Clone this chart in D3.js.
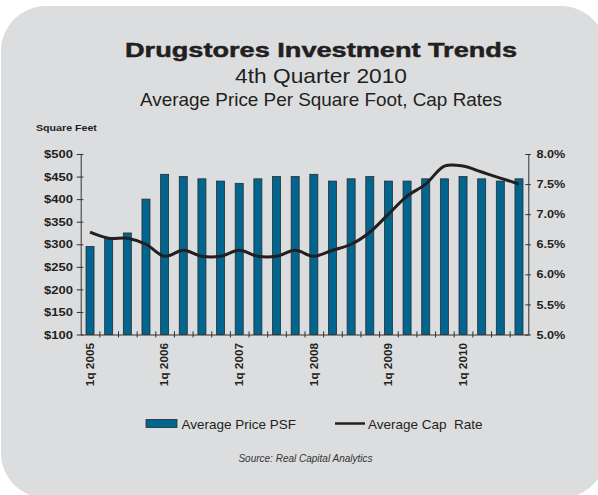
<!DOCTYPE html>
<html><head><meta charset="utf-8">
<script src="https://cdn.jsdelivr.net/npm/d3@7/dist/d3.min.js"></script>
<style>
body{margin:0;background:#fff}
svg{display:block;font-family:"Liberation Sans",Arial,Helvetica,sans-serif}
</style>
</head><body>
<svg id="c" width="598" height="495"></svg>
<script>
// ---- data ----
const quarters = ["1q 2005","2q 2005","3q 2005","4q 2005",
                  "1q 2006","2q 2006","3q 2006","4q 2006",
                  "1q 2007","2q 2007","3q 2007","4q 2007",
                  "1q 2008","2q 2008","3q 2008","4q 2008",
                  "1q 2009","2q 2009","3q 2009","4q 2009",
                  "1q 2010","2q 2010","3q 2010","4q 2010"];
const xTickLabels = ["1q 2005","1q 2006","1q 2007","1q 2008","1q 2009","1q 2010"];
const pricePSF = [295,315,325,400,455,450,445,440,435,445,450,450,
                  455,440,445,450,440,440,445,445,450,445,440,445];
const capRate  = [6.7,6.6,6.6,6.5,6.3,6.4,6.3,6.3,6.4,6.3,6.3,6.4,
                  6.3,6.4,6.5,6.7,7.0,7.3,7.5,7.8,7.8,7.7,7.6,7.5];
const leftTicks  = [100,150,200,250,300,350,400,450,500];
const rightTicks = [5.0,5.5,6.0,6.5,7.0,7.5,8.0];
const seriesNames = ["Average Price PSF","Average Cap  Rate"];

// ---- layout ----
const svg = d3.select("#c");
const L = 80.7, R = 528.3, T = 154, B = 334.5;
const ink = "#231f20";

svg.append("rect").attr("x",1).attr("y",6).attr("width",605).attr("height",492)
   .attr("rx",45).attr("ry",45).attr("fill","#dcdddf");

function stretch(sel, k){
  sel.each(function(){
    const w = this.getComputedTextLength();
    d3.select(this).attr("textLength", w*k).attr("lengthAdjust","spacingAndGlyphs");
  });
}

// titles
svg.append("text").attr("x",321).attr("y",56.5).attr("text-anchor","middle")
   .attr("font-size",21).attr("font-weight","bold").attr("fill",ink)
   .attr("stroke",ink).attr("stroke-width",0.5)
   .attr("textLength",392).attr("lengthAdjust","spacingAndGlyphs")
   .text("Drugstores Investment Trends");
svg.append("text").attr("x",321).attr("y",82.5).attr("text-anchor","middle")
   .attr("font-size",21).attr("fill",ink)
   .attr("textLength",172).attr("lengthAdjust","spacingAndGlyphs")
   .text("4th Quarter 2010");
svg.append("text").attr("x",321).attr("y",106).attr("text-anchor","middle")
   .attr("font-size",18.5).attr("fill",ink)
   .attr("textLength",362).attr("lengthAdjust","spacingAndGlyphs")
   .text("Average Price Per Square Foot, Cap Rates");
svg.append("text").attr("x",36).attr("y",131)
   .attr("font-size",9.5).attr("font-weight","bold").attr("fill",ink)
   .text("Square Feet").call(stretch,1.12);

// scales
const x = d3.scaleBand().domain(quarters).range([L,R]).paddingInner(0.57).paddingOuter(0.285);
const xi = d3.scaleLinear().domain([0,quarters.length]).range([L,R]);
const yL = d3.scaleLinear().domain([100,500]).range([B,T]);
const yR = d3.scaleLinear().domain([5,8]).range([B,T]);

// bars
svg.append("g").selectAll("rect").data(pricePSF).join("rect")
   .attr("x",(d,i)=>x(quarters[i]))
   .attr("y",d=>yL(d))
   .attr("width",x.bandwidth())
   .attr("height",d=>B-yL(d))
   .attr("fill","#00668f").attr("stroke","#2b2b2b").attr("stroke-width",0.8);

// line
const line = d3.line().x((d,i)=>x(quarters[i])+x.bandwidth()/2).y(d=>yR(d))
   .curve(d3.curveCatmullRom.alpha(0.5));
svg.append("path").datum(capRate).attr("d",line)
   .attr("fill","none").attr("stroke",ink).attr("stroke-width",3);

// axes
const axisColor = "#333";
const gl = svg.append("g").attr("transform",`translate(${L},0)`)
   .call(d3.axisLeft(yL).tickValues(leftTicks).tickFormat("").tickSizeOuter(0));
gl.selectAll(".tick line").attr("x1",2.7).attr("x2",-4);
const gr = svg.append("g").attr("transform",`translate(${R},0)`)
   .call(d3.axisRight(yR).tickValues(rightTicks).tickFormat("").tickSizeOuter(0));
gr.selectAll(".tick line").attr("x1",-3).attr("x2",2.5);
const gb = svg.append("g").attr("transform",`translate(0,${B})`)
   .call(d3.axisBottom(xi).tickValues(d3.range(1,quarters.length)).tickFormat("").tickSizeOuter(0));
gb.selectAll(".tick line").attr("y1",-3.2).attr("y2",3);
[gl,gr,gb].forEach(g=>{
  g.selectAll("path,line").attr("stroke",axisColor).attr("stroke-width",1);
});

// tick labels
svg.append("g").selectAll("text").data(leftTicks).join("text")
   .attr("x",73).attr("y",d=>yL(d)).attr("dy","0.36em").attr("text-anchor","end")
   .attr("font-size",11.5).attr("font-weight","bold").attr("fill",ink)
   .text(d=>"$"+d).call(stretch,1.13);
svg.append("g").selectAll("text").data(rightTicks).join("text")
   .attr("x",536.5).attr("y",d=>yR(d)).attr("dy","0.36em")
   .attr("font-size",11.5).attr("font-weight","bold").attr("fill",ink)
   .text(d=>d.toFixed(1)+"%").call(stretch,1.1);
svg.append("g").selectAll("text").data(xTickLabels).join("text")
   .attr("transform",d=>`translate(${x(d)+x.bandwidth()/2},343) rotate(-90)`)
   .attr("dy","0.36em").attr("text-anchor","end")
   .attr("font-size",10.5).attr("font-weight","bold").attr("fill",ink)
   .text(d=>d).call(stretch,1.12);

// legend
svg.append("rect").attr("x",146).attr("y",419.5).attr("width",31).attr("height",8)
   .attr("fill","#00668f").attr("stroke","#2b2b2b").attr("stroke-width",0.8);
svg.append("text").attr("x",181.5).attr("y",429).attr("font-size",13.5).attr("fill",ink)
   .text(seriesNames[0]);
svg.append("line").attr("x1",335).attr("x2",365).attr("y1",423.5).attr("y2",423.5)
   .attr("stroke",ink).attr("stroke-width",2.5);
svg.append("text").attr("x",368).attr("y",429).attr("font-size",13.5).attr("fill",ink)
   .attr("xml:space","preserve").style("white-space","pre")
   .text(seriesNames[1]);

// source
svg.append("text").attr("x",305.5).attr("y",461.5).attr("text-anchor","middle")
   .attr("font-size",10).attr("font-style","italic").attr("fill","#333")
   .text("Source: Real Capital Analytics");
</script>
</body></html>
